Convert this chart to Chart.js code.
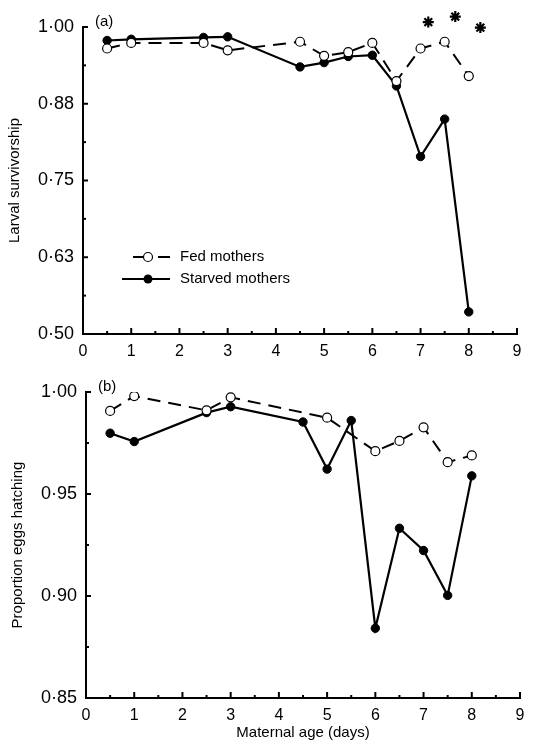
<!DOCTYPE html>
<html>
<head>
<meta charset="utf-8">
<script src="https://cdn.jsdelivr.net/npm/chart.js@4"></script>
<style>
html,body{margin:0;padding:0;background:#fff;}
#wrap{position:relative;width:536px;height:742px;}
canvas{position:absolute;left:0;}
</style>
</head>
<body>
<div id="wrap">
<canvas id="c1" width="536" height="370" style="top:0"></canvas>
<canvas id="c2" width="536" height="372" style="top:370px"></canvas>
</div>
<script>
// panel (a) larval survivorship
var ageA      = [0.5, 1, 2.5, 3, 4.5, 5, 5.5, 6, 6.5, 7, 7.5, 8];
var fedA      = [0.965, 0.974, 0.974, 0.962, 0.976, 0.953, 0.959, 0.974, 0.912, 0.965, 0.976, 0.920];
var starvedA  = [0.978, 0.980, 0.983, 0.984, 0.935, 0.942, 0.952, 0.954, 0.904, 0.789, 0.850, 0.536];
var starAgeA  = [7.16, 7.72, 8.24];
var starValA  = [1.008, 1.017, 0.999];
var yTicksA   = ['0·50', '0·63', '0·75', '0·88', '1·00'];

// panel (b) egg hatching
var ageFedB     = [0.5, 1, 2.5, 3, 5, 6, 6.5, 7, 7.5, 8];
var fedB        = [0.9907, 0.998, 0.991, 0.9974, 0.9874, 0.971, 0.976, 0.9827, 0.9656, 0.9689];
var ageStarvedB = [0.5, 1, 2.5, 3, 4.5, 5, 5.5, 6, 6.5, 7, 7.5, 8];
var starvedB    = [0.9798, 0.9757, 0.9899, 0.9928, 0.9853, 0.9622, 0.986, 0.8842, 0.9332, 0.9223, 0.9003, 0.9589];
var yTicksB     = ['0·85', '0·90', '0·95', '1·00'];

var xTicks = ['0', '1', '2', '3', '4', '5', '6', '7', '8', '9'];

var FONT = '"Liberation Sans", Arial, sans-serif';

function pts(xs, ys) {
    return xs.map(function (x, i) { return { x: x, y: ys[i] }; });
}

function fedSet(data) {
    return {
        label: 'Fed mothers', data: data, showLine: true,
        borderColor: '#000', borderWidth: 2, borderDash: [13, 8],
        pointRadius: 4.5, pointBackgroundColor: '#fff', pointBorderColor: '#000', pointBorderWidth: 1.2
    };
}
function starvedSet(data) {
    return {
        label: 'Starved mothers', data: data, showLine: true,
        borderColor: '#000', borderWidth: 2.2,
        pointRadius: 4.2, pointBackgroundColor: '#000', pointBorderColor: '#000', pointBorderWidth: 1
    };
}

// ticks drawn inward, as in the printed figure
var innerTicks = {
    id: 'innerTicks',
    afterDraw: function (chart) {
        var ctx = chart.ctx, xs = chart.scales.x, ys = chart.scales.y, a = chart.chartArea;
        ctx.save();
        ctx.strokeStyle = '#000';
        ctx.lineWidth = 2;
        for (var v = 0; v <= 9; v += 0.5) {
            var px = xs.getPixelForValue(v);
            var len = (v % 1 === 0) ? 6 : 3;
            ctx.beginPath(); ctx.moveTo(px, a.bottom); ctx.lineTo(px, a.bottom - len); ctx.stroke();
        }
        var tv = ys.ticks.map(function (t) { return t.value; });
        for (var i = 0; i < tv.length; i++) {
            var py = ys.getPixelForValue(tv[i]);
            ctx.beginPath(); ctx.moveTo(a.left, py); ctx.lineTo(a.left + 5, py); ctx.stroke();
            if (i < tv.length - 1) {
                var pm = ys.getPixelForValue((tv[i] + tv[i + 1]) / 2);
                ctx.beginPath(); ctx.moveTo(a.left, pm); ctx.lineTo(a.left + 3, pm); ctx.stroke();
            }
        }
        var tag = chart.options.plugins.panelTag;
        ctx.fillStyle = '#000';
        ctx.font = '15px ' + FONT;
        ctx.textBaseline = 'middle';
        ctx.fillText(tag, a.left + 12, a.top - 5);
        ctx.restore();
    }
};

// significance asterisks sit above the plot area, so draw them here
var asterisks = {
    id: 'asterisks',
    afterDatasetsDraw: function (chart) {
        if (!chart.options.plugins.innerLegendOn) return;
        var ctx = chart.ctx, xs = chart.scales.x, ys = chart.scales.y;
        ctx.save();
        ctx.strokeStyle = '#000';
        ctx.fillStyle = '#000';
        ctx.lineWidth = 2.2;
        for (var i = 0; i < starAgeA.length; i++) {
            Chart.helpers.drawPoint(ctx, { pointStyle: 'star', radius: 5.5, rotation: 0, borderWidth: 2.2 },
                xs.getPixelForValue(starAgeA[i]), ys.getPixelForValue(starValA[i]));
        }
        ctx.restore();
    }
};

var innerLegend = {
    id: 'innerLegend',
    afterDraw: function (chart) {
        if (!chart.options.plugins.innerLegendOn) return;
        var ctx = chart.ctx;
        ctx.save();
        ctx.strokeStyle = '#000';
        ctx.fillStyle = '#000';
        // fed
        ctx.lineWidth = 2;
        ctx.beginPath(); ctx.moveTo(133, 257); ctx.lineTo(144, 257); ctx.stroke();
        ctx.beginPath(); ctx.moveTo(158, 257); ctx.lineTo(170, 257); ctx.stroke();
        ctx.lineWidth = 1.2;
        ctx.beginPath(); ctx.arc(148, 257, 4.5, 0, Math.PI * 2); ctx.fillStyle = '#fff'; ctx.fill(); ctx.stroke();
        // starved
        ctx.lineWidth = 2.2;
        ctx.beginPath(); ctx.moveTo(122, 279); ctx.lineTo(170, 279); ctx.stroke();
        ctx.fillStyle = '#000';
        ctx.beginPath(); ctx.arc(148, 279, 4.5, 0, Math.PI * 2); ctx.fill();
        ctx.font = '15px ' + FONT;
        ctx.textBaseline = 'middle';
        ctx.fillText('Fed mothers', 180, 257);
        ctx.fillText('Starved mothers', 180, 279);
        ctx.restore();
    }
};

function makeOpts(cfg) {
    return {
        responsive: false,
        animation: false,
        layout: { padding: { top: cfg.top, right: cfg.right, left: 0, bottom: 0 } },
        plugins: { legend: { display: false }, tooltip: { enabled: false },
                   panelTag: cfg.tag, innerLegendOn: cfg.legend },
        scales: {
            x: {
                type: 'linear', min: 0, max: 9,
                afterFit: function (s) { s.height = cfg.xh; },
                grid: { drawOnChartArea: false, drawTicks: false },
                border: { display: true, color: '#000', width: 2 },
                ticks: { stepSize: 1, padding: 8, color: '#000', font: { family: FONT, size: 16 },
                         maxRotation: 0, autoSkip: false,
                         callback: function (v) { return xTicks[v]; } },
                title: { display: cfg.xTitle !== '', text: cfg.xTitle, color: '#000',
                         font: { family: FONT, size: 15 }, padding: { top: 0, bottom: 0 } }
            },
            y: {
                type: 'linear', min: cfg.ymin, max: 1.0,
                afterFit: function (s) { s.width = cfg.yw; },
                grid: { drawOnChartArea: false, drawTicks: false },
                border: { display: true, color: '#000', width: 2 },
                ticks: { stepSize: cfg.step, padding: 9, color: '#000', font: { family: FONT, size: 18 },
                         callback: function (v, i) { return cfg.labels[i]; } },
                title: { display: true, text: cfg.yTitle, color: '#000',
                         font: { family: FONT, size: 15 }, padding: { top: cfg.ytPad, bottom: 0 } }
            }
        }
    };
}

new Chart(document.getElementById('c1'), {
    type: 'scatter',
    data: {
        datasets: [
            fedSet(pts(ageA, fedA)),
            starvedSet(pts(ageA, starvedA))
        ]
    },
    options: makeOpts({ top: 27, right: 19, xh: 36, yw: 83, ymin: 0.5, step: 0.125,
                        labels: yTicksA, tag: '(a)', legend: true, xTitle: '', ytPad: 6,
                        yTitle: 'Larval survivorship' }),
    plugins: [innerTicks, asterisks, innerLegend]
});

new Chart(document.getElementById('c2'), {
    type: 'scatter',
    data: {
        datasets: [
            fedSet(pts(ageFedB, fedB)),
            starvedSet(pts(ageStarvedB, starvedB))
        ]
    },
    options: makeOpts({ top: 22, right: 16, xh: 44, yw: 86, ymin: 0.85, step: 0.05,
                        labels: yTicksB, tag: '(b)', legend: false, xTitle: 'Maternal age (days)', ytPad: 9,
                        yTitle: 'Proportion eggs hatching' }),
    plugins: [innerTicks, asterisks, innerLegend]
});
</script>
</body>
</html>
